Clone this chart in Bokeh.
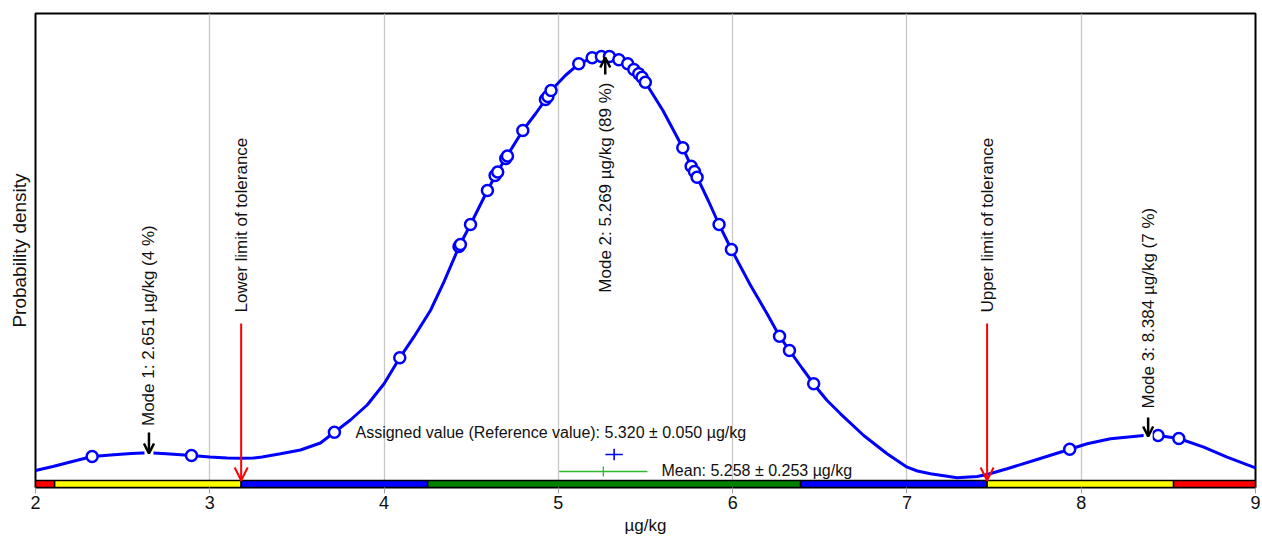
import math
from bokeh.plotting import figure
from bokeh.models import Range1d, FixedTicker, Arrow, OpenHead
from bokeh.core.properties import value
from bokeh.embed import file_html
from bokeh.resources import INLINE

# ---------------- data ----------------
curve_x = [2.00, 2.10, 2.20, 2.325, 2.45, 2.55, 2.65, 2.75, 2.895, 3.00, 3.10, 3.18,
           3.25, 3.30, 3.406, 3.52, 3.635, 3.715, 3.807, 3.903, 4.00, 4.09, 4.17,
           4.266, 4.343, 4.433, 4.496, 4.593, 4.645, 4.70, 4.796, 4.87, 4.935,
           4.958, 5.04, 5.117, 5.194, 5.247, 5.269, 5.293, 5.347, 5.398, 5.433,
           5.461, 5.499, 5.60, 5.714, 5.762, 5.796, 5.86, 5.922, 5.993, 6.10,
           6.20, 6.269, 6.326, 6.40, 6.465, 6.504, 6.542, 6.619, 6.752, 6.886,
           7.001, 7.06, 7.135, 7.288, 7.403, 7.46, 7.575, 7.728, 7.934, 8.034, 8.168,
           8.301, 8.387, 8.441, 8.560, 8.703, 8.837, 9.00]
curve_y = [0.0100, 0.0140, 0.0185, 0.0240, 0.0257, 0.0270, 0.0277, 0.0267, 0.0250,
           0.0235, 0.0225, 0.0222, 0.0225, 0.0235, 0.0268, 0.0305, 0.0375, 0.0483,
           0.0605, 0.0755, 0.0967, 0.1227, 0.1433, 0.1700, 0.1983, 0.2350, 0.2560,
           0.2900, 0.3070, 0.3230, 0.3500, 0.3670, 0.3830, 0.3900, 0.4050, 0.4167,
           0.4227, 0.4240, 0.4243, 0.4240, 0.4207, 0.4167, 0.4110, 0.4067, 0.3983,
           0.3700, 0.3327, 0.3143, 0.3033, 0.2800, 0.2560, 0.2310, 0.1960, 0.1660,
           0.1443, 0.1300, 0.1120, 0.0967, 0.0880, 0.0800, 0.0667, 0.0450, 0.0267,
           0.0133, 0.0095, 0.0067, 0.0027, 0.0040, 0.0060, 0.0117, 0.0200, 0.0313, 0.0367,
           0.0417, 0.0440, 0.0455, 0.0450, 0.0420, 0.0333, 0.0233, 0.0127]

result_x = [2.325, 2.895, 3.715, 4.090, 4.430, 4.438, 4.496, 4.593, 4.637, 4.652,
            4.698, 4.708, 4.796, 4.926, 4.940, 4.958, 5.117, 5.194, 5.247, 5.293,
            5.347, 5.398, 5.433, 5.461, 5.480, 5.499, 5.714, 5.762, 5.781, 5.796,
            5.922, 5.993, 6.269, 6.326, 6.465, 7.934, 8.441, 8.560]
result_y = [0.0240, 0.0250, 0.0483, 0.1227, 0.2340, 0.2360, 0.2560, 0.2900, 0.3050,
            0.3085, 0.3220, 0.3245, 0.3500, 0.3810, 0.3840, 0.3900, 0.4167, 0.4227,
            0.4240, 0.4240, 0.4207, 0.4167, 0.4110, 0.4067, 0.4033, 0.3983, 0.3327,
            0.3143, 0.3090, 0.3033, 0.2560, 0.2310, 0.1443, 0.1300, 0.0967, 0.0313,
            0.0450, 0.0420]

band_edges = [2.0, 2.11, 3.18, 4.25, 6.39, 7.46, 8.53, 9.0]
band_colors = ["#ff0000", "#ffff00", "#0000ff", "#008000", "#0000ff", "#ffff00", "#ff0000"]

mode_x = [2.651, 5.269, 8.384]
mode_pct = [4, 89, 7]

tolerance_x = [3.18, 7.46]
tolerance_labels = ["Lower limit of tolerance", "Upper limit of tolerance"]

assigned_value = 5.320
assigned_u = 0.050
mean_value = 5.258
mean_u = 0.253

x_ticks = [2, 3, 4, 5, 6, 7, 8, 9]

# ---------------- layout constants ----------------
FONT = "Liberation Sans"
BLUE = "#0000ff"
GREEN = "#2db82d"
TXT = "#111111"

p = figure(width=1262, height=538,
           x_range=Range1d(2, 9), y_range=Range1d(-0.007, 0.467),
           output_backend="svg", toolbar_location=None,
           min_border_left=35, min_border_right=7, min_border_top=13, min_border_bottom=51,
           background_fill_color="white", border_fill_color="white")

p.outline_line_color = "black"
p.outline_line_width = 2

p.xaxis.ticker = FixedTicker(ticks=x_ticks)
p.xaxis.axis_label = "µg/kg"
p.xaxis.axis_label_text_font = FONT
p.xaxis.axis_label_text_font_size = "17px"
p.xaxis.axis_label_text_font_style = "normal"
p.xaxis.axis_label_text_color = TXT
p.xaxis.axis_label_standoff = 4
p.xaxis.major_label_text_font = FONT
p.xaxis.major_label_text_font_size = "18px"
p.xaxis.major_label_text_color = TXT
p.xaxis.major_label_standoff = 2
p.xaxis.major_tick_out = 6
p.xaxis.major_tick_in = 0
p.xaxis.major_tick_line_color = "#a0a0a0"
p.xaxis.minor_tick_line_color = None
p.xaxis.axis_line_color = "black"

p.yaxis.ticker = FixedTicker(ticks=[])
p.yaxis.axis_label = "Probability density"
p.yaxis.axis_label_text_font = FONT
p.yaxis.axis_label_text_font_size = "19px"
p.yaxis.axis_label_text_font_style = "normal"
p.yaxis.axis_label_text_color = TXT
p.yaxis.axis_label_standoff = 6
p.yaxis.major_tick_out = 0
p.yaxis.major_tick_in = 0
p.yaxis.minor_tick_line_color = None
p.yaxis.major_label_text_font_size = "0px"
p.yaxis.axis_line_color = None

p.ygrid.visible = False
p.xgrid.grid_line_color = "#c8c8c8"
p.xgrid.grid_line_width = 1.3

# z-score band at the bottom
p.quad(left=band_edges[:-1], right=band_edges[1:], bottom=-0.007, top=0.0,
       fill_color=band_colors, line_color="black", line_width=1.5)

# density curve and results
p.line(curve_x, curve_y, line_color=BLUE, line_width=3)
p.scatter(result_x, result_y, marker="circle", size=11, fill_color="white",
          line_color=BLUE, line_width=2.5)

# mode arrows (white gap behind them, then arrow)
mode_arrow_y = [(0.048, 0.027), (0.406, 0.423), (0.063, 0.044)]
for mx, (y0, y1) in zip(mode_x, mode_arrow_y):
    if y1 < y0:
        p.segment(x0=[mx], y0=[y0], x1=[mx], y1=[y1 - 0.004], line_color="white", line_width=9)
    p.add_layout(Arrow(end=OpenHead(line_color="black", line_width=2.5, size=10),
                       x_start=mx, y_start=y0, x_end=mx, y_end=y1,
                       line_color="black", line_width=2.5))

# tolerance arrows
for tx in tolerance_x:
    p.add_layout(Arrow(end=OpenHead(line_color="red", line_width=2, size=13),
                       x_start=tx, y_start=0.157, x_end=tx, y_end=0.0,
                       line_color="red", line_width=2))

# vertical texts
mode_text_y = [0.0545, 0.398, 0.072]
mode_align = ["left", "right", "left"]
for i, (mx, pct) in enumerate(zip(mode_x, mode_pct)):
    p.text(x=[mx], y=[mode_text_y[i]],
           text=[f"Mode {i + 1}: {mx:.3f} µg/kg ({pct} %)"],
           angle=math.pi / 2, text_align=mode_align[i], text_baseline="middle",
           text_font=value(FONT), text_font_size="17px", text_color=TXT)

for tx, lab in zip(tolerance_x, tolerance_labels):
    p.text(x=[tx], y=[0.168], text=[lab], angle=math.pi / 2,
           text_align="left", text_baseline="middle",
           text_font=value(FONT), text_font_size="17px", text_color=TXT)

# assigned value marker and text
p.segment(x0=[assigned_value - assigned_u], y0=[0.026], x1=[assigned_value + assigned_u], y1=[0.026],
          line_color=BLUE, line_width=1.6)
p.segment(x0=[assigned_value], y0=[0.026 - 0.0057], x1=[assigned_value], y1=[0.026 + 0.0057],
          line_color=BLUE, line_width=1.6)
p.text(x=[3.836], y=[0.0485],
       text=[f"Assigned value (Reference value): {assigned_value:.3f} ± {assigned_u:.3f} µg/kg"],
       text_align="left", text_baseline="middle",
       text_font=value(FONT), text_font_size="16px", text_color=TXT)

# mean marker and text
p.segment(x0=[mean_value - mean_u], y0=[0.009], x1=[mean_value + mean_u], y1=[0.009],
          line_color=GREEN, line_width=1.3)
p.segment(x0=[mean_value], y0=[0.009 - 0.005], x1=[mean_value], y1=[0.009 + 0.005],
          line_color=GREEN, line_width=1.3)
p.text(x=[5.592], y=[0.010],
       text=[f"Mean: {mean_value:.3f} ± {mean_u:.3f} µg/kg"],
       text_align="left", text_baseline="middle",
       text_font=value(FONT), text_font_size="16px", text_color=TXT)

open("out.html", "w").write(file_html(p, INLINE))
